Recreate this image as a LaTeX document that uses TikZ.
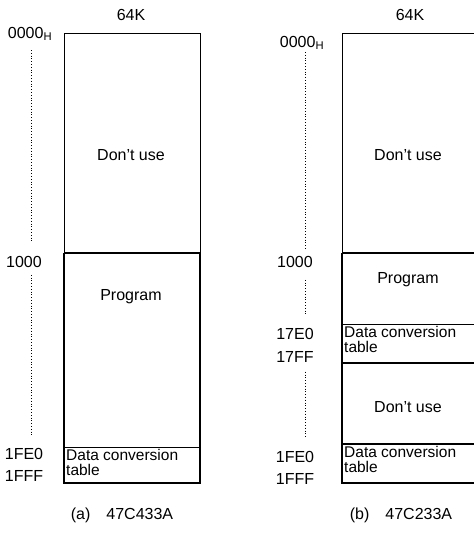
\documentclass[tikz,border=0pt]{standalone}
\usepackage{fontspec}
\setmainfont{Liberation Sans}
\usetikzlibrary{positioning}
\newcommand{\addrH}[1]{#1\textsubscript{H}}

\begin{document}
\begin{tikzpicture}[x=1pt, y=-1pt, every node/.style={font=\fontsize{16}{15.5}\selectfont, inner sep=1pt},
 addr/.style={anchor=center}, dots/.style={dotted, line width=0.8pt}, thinline/.style={line width=0.8pt},
 thickline/.style={line width=1.8pt}, tbl/.style={anchor=north west, align=left, inner sep=0pt, font=\fontsize{15.5}{15.5}\selectfont}]

 \clip (0,0) rectangle (474,533);

 % (a) 47C433A
 \draw[thinline] (64,253) -- (64,33) -- (200,33) -- (200,253);
 \draw[thickline] (64,253) -- (200,253);
 \draw[line width=1.3pt] (64,253) -- (64,483) -- (200,483) -- (200,253);
 \draw[thinline] (64,447) -- (200,447);
 \node (ka) at (131,15) {64K};
 \node[addr] (a0000) at (30,34) {\addrH{0000}};
 \node[addr] (a1000) at (24,262) {1000};
 \node[addr] (a1fe0) at (24,454) {1FE0};
 \node[addr] (a1fff) at (24,476) {1FFF};
 \draw[dots] ([xshift=1pt, yshift=-8pt]a0000.south) -- ([xshift=7pt, yshift=12pt]a1000.north);
 \draw[dots] ([xshift=7pt, yshift=-6pt]a1000.south) -- ([xshift=7pt, yshift=10pt]a1fe0.north);
 \node (ua) at (131,155) {Don't use};
 \node (pa) at (131,297) {Program};
 \node[tbl] (ta) at (66,449) {Data conversion\\table};
 \node (capa) at (122,515) {(a)\quad 47C433A};

 % (b) 47C233A
 \draw[thinline] (342,253) -- (342,33) -- (480,33);
 \draw[thickline] (342,253) -- (480,253);
 \draw[line width=1.3pt] (342,253) -- (342,483) -- (480,483);
 \draw[thinline] (342,324) -- (480,324);
 \draw[line width=1.3pt] (342,363) -- (480,363);
 \draw[line width=1.5pt] (342,444) -- (480,444);
 \node (kb) at (410,15) {64K};
 \node[addr] (b0000) at (302,43) {\addrH{0000}};
 \node[addr] (b1000) at (295,262) {1000};
 \node[addr] (b17e0) at (295,334) {17E0};
 \node[addr] (b17ff) at (295,357) {17FF};
 \node[addr] (b1fe0) at (295,457) {1FE0};
 \node[addr] (b1fff) at (295,479) {1FFF};
 \draw[dots] ([xshift=3pt, yshift=-1pt]b0000.south) -- ([xshift=10pt, yshift=7pt]b1000.north);
 \draw[dots] ([xshift=10pt, yshift=-11pt]b1000.south) -- ([xshift=10pt, yshift=12pt]b17e0.north);
 \draw[dots] ([xshift=10pt, yshift=-8pt]b17ff.south) -- ([xshift=10pt, yshift=12pt]b1fe0.north);
 \node (ub) at (408,155) {Don't use};
 \node (pb) at (408,280) {Program};
 \node[tbl] (tb1) at (344,326) {Data conversion\\table};
 \node (ub2) at (408,407) {Don't use};
 \node[tbl] (tb2) at (344,446) {Data conversion\\table};
 \node (capb) at (401,515) {(b)\quad 47C233A};
\end{tikzpicture}
\end{document}
